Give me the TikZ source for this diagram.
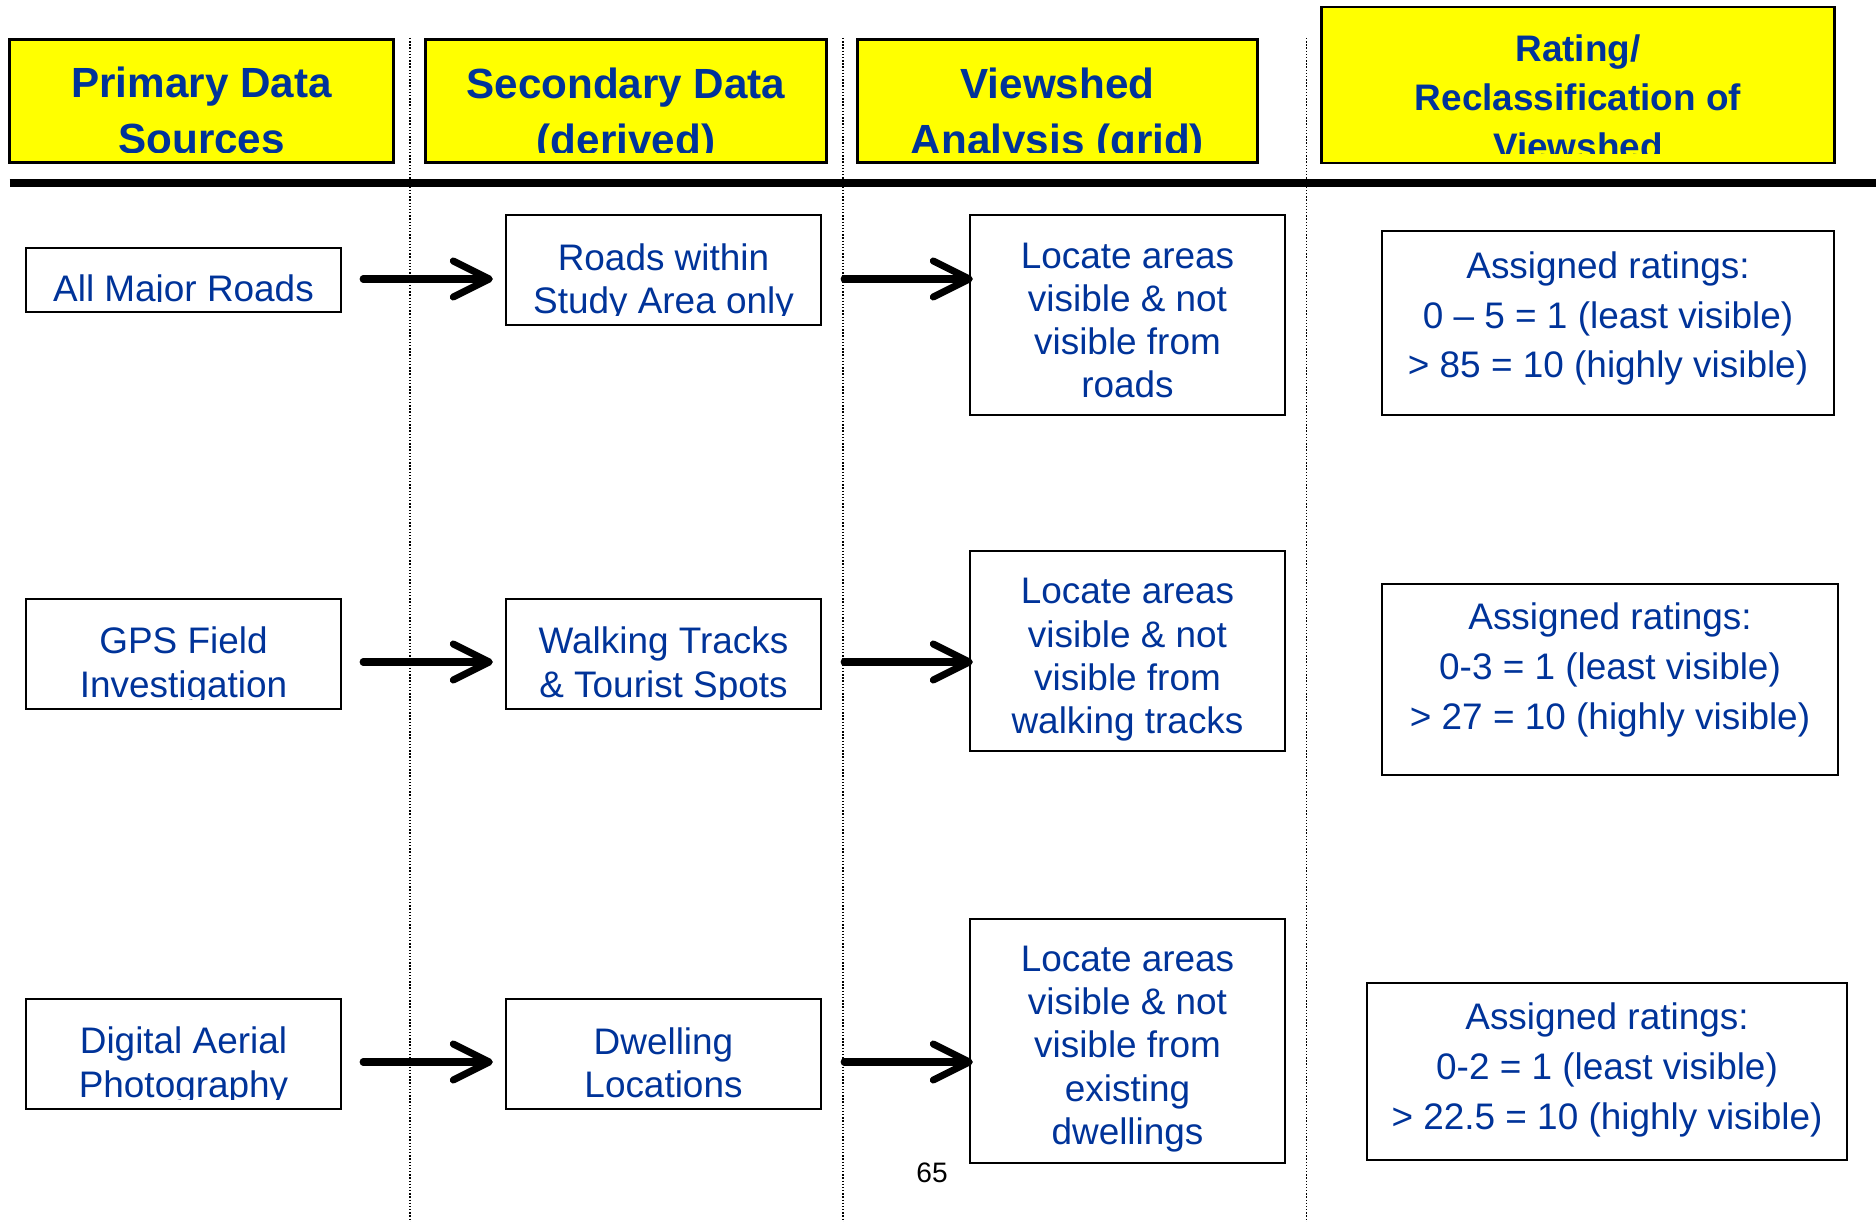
\documentclass[tikz,border=0pt]{standalone}
\usepackage{fontspec}
\setmainfont{Liberation Sans}
\usepackage{tikz}
\usetikzlibrary{arrows.meta}
\definecolor{slideblue}{HTML}{003399}
\definecolor{slideyellow}{HTML}{FFFF00}
\tikzset{
  headbox/.style={
    draw=black,
    line width=0.8pt,
    fill=slideyellow,
    minimum height=1.23cm,
    inner sep=0pt
  },
  headtext/.style={
    text=slideblue,
    align=center,
    inner sep=0pt,
    font=\fontsize{12}{15.9}\selectfont\bfseries
  },
  databox/.style={
    draw=black,
    line width=0.6pt,
    minimum width=3.15cm,
    inner sep=0pt
  },
  datatext/.style={
    text=slideblue,
    align=center,
    inner sep=0pt,
    font=\fontsize{10.5}{12.3}\selectfont
  },
  ratetext/.style={
    datatext,
    font=\fontsize{10.5}{14.2}\selectfont
  },
  flowarrow/.style={
    -{Straight Barb[length=3.6mm,width=3.6mm,round]},
    line width=2pt,
    line cap=round
  },
  divider/.style={
    line width=0.4pt,
    dash pattern=on 0.4pt off 0.5pt
  }
}

\begin{document}
\begin{tikzpicture}[x=0.01cm, y=-0.01cm]
\useasboundingbox (0,0) rectangle (1876,1222);

% column dividers
\draw[divider] (410,38) -- (410,1222);
\draw[divider] (843,38) -- (843,1222);
\draw[divider] (1306.6,38) -- (1306.6,1222);

% headers (text is cut off at the bottom, as on the slide)
\node[headbox, minimum width=3.84cm] (prim) at (201.6,101) {};
\node[headbox, minimum width=4.0cm] (seco) at (626,101) {};
\node[headbox, minimum width=3.99cm] (view) at (1057.5,101) {};
\node[headbox, minimum width=5.12cm, minimum height=1.56cm] (rate) at (1578,85) {};
\begin{scope}
  \clip ([yshift=0.11cm]prim.south west) rectangle (prim.north east);
  \node[headtext] (primtext) at (201.6,110) {Primary Data\\Sources};
\end{scope}
\begin{scope}
  \clip ([yshift=0.11cm]seco.south west) rectangle (seco.north east);
  \node[headtext] (secotext) at (626,115.5) {Secondary Data\\(derived)};
\end{scope}
\begin{scope}
  \clip ([yshift=0.11cm]view.south west) rectangle (view.north east);
  \node[headtext] (viewtext) at (1057.5,115.5) {Viewshed\\Analysis (grid)};
\end{scope}
\begin{scope}
  \clip ([yshift=0.11cm]rate.south west) rectangle (rate.north east);
  \node[headtext, font=\fontsize{10.5}{13.9}\selectfont\bfseries] (ratetext) at (1578,97) {Rating/\\Reclassification of\\Viewshed};
\end{scope}

\draw[line width=2.3pt] (9.6,183) -- (1876,183);

% primary sources
\node[databox, minimum height=0.64cm] (allroads) at (183.5,280) {};
\node[databox, minimum height=1.1cm] (gps) at (183.5,654) {};
\node[databox, minimum height=1.1cm] (aerial) at (183.5,1054) {};
\begin{scope}
  \clip ([yshift=0.12cm]allroads.south west) rectangle (allroads.north east);
  \node[datatext] (allroadstext) at (183.5,292) {All Major Roads};
\end{scope}
\begin{scope}
  \clip ([yshift=0.11cm]gps.south west) rectangle (gps.north east);
  \node[datatext] (gpstext) at (183.5,666) {GPS Field\\Investigation};
\end{scope}
\begin{scope}
  \clip ([yshift=0.11cm]aerial.south west) rectangle (aerial.north east);
  \node[datatext] (aerialtext) at (183.5,1066) {Digital Aerial\\Photography};
\end{scope}

% derived data
\node[databox, minimum height=1.1cm] (roadsarea) at (663.5,270) {};
\node[databox, minimum height=1.1cm] (tracks) at (663.5,654) {};
\node[databox, minimum height=1.1cm] (dwelling) at (663.5,1054) {};
\begin{scope}
  \clip ([yshift=0.11cm]roadsarea.south west) rectangle (roadsarea.north east);
  \node[datatext] (roadsareatext) at (663.5,282.5) {Roads within\\Study Area only};
\end{scope}
\begin{scope}
  \clip ([yshift=0.11cm]tracks.south west) rectangle (tracks.north east);
  \node[datatext] (trackstext) at (663.5,666) {Walking Tracks\\\& Tourist Spots};
\end{scope}
\begin{scope}
  \clip ([yshift=0.11cm]dwelling.south west) rectangle (dwelling.north east);
  \node[datatext] (dwellingtext) at (663.5,1063) {Dwelling\\Locations};
\end{scope}

% viewshed analysis
\node[databox, minimum height=2cm] (locroads) at (1127.5,315) {};
\node[databox, minimum height=2cm] (loctracks) at (1127.5,651) {};
\node[databox, minimum height=2.44cm] (locdwell) at (1127.5,1041) {};
\node[datatext] (locroadstext) at (1127.5,320.5) {Locate areas\\visible \& not\\visible from\\roads};
\node[datatext] (loctrackstext) at (1127.5,660) {Locate areas\\visible \& not\\visible from\\walking tracks};
\node[datatext] (locdwelltext) at (1127.5,1049) {Locate areas\\visible \& not\\visible from\\existing\\dwellings};

% ratings
\node[databox, minimum width=4.52cm, minimum height=1.84cm] (rateroads) at (1608,323) {};
\node[databox, minimum width=4.56cm, minimum height=1.91cm] (ratetracks) at (1610,679.5) {};
\node[databox, minimum width=4.8cm, minimum height=1.77cm] (ratedwell) at (1607,1071.5) {};
\node[ratetext] (rateroadstext) at (1608,318.5) {Assigned ratings:\\0 -- 5 = 1 (least visible)\\\textgreater{} 85 = 10 (highly visible)};
\node[ratetext] (ratetrackstext) at (1610,670) {Assigned ratings:\\0-3 = 1 (least visible)\\\textgreater{} 27 = 10 (highly visible)};
\node[ratetext] (ratedwelltext) at (1607,1070) {Assigned ratings:\\0-2 = 1 (least visible)\\\textgreater{} 22.5 = 10 (highly visible)};

% arrows
\coordinate (row1) at (0,279);
\coordinate (row2) at (0,662);
\coordinate (row3) at (0,1062);
\draw[flowarrow, shorten <=0.21cm, shorten >=0.12cm] (allroads.east |- row1) -- (roadsarea.west |- row1);
\draw[flowarrow, shorten <=0.22cm, shorten >=-0.04cm] (roadsarea.east |- row1) -- (locroads.west |- row1);
\draw[flowarrow, shorten <=0.21cm, shorten >=0.12cm] (gps.east |- row2) -- (tracks.west |- row2);
\draw[flowarrow, shorten <=0.22cm, shorten >=-0.04cm] (tracks.east |- row2) -- (loctracks.west |- row2);
\draw[flowarrow, shorten <=0.21cm, shorten >=0.12cm] (aerial.east |- row3) -- (dwelling.west |- row3);
\draw[flowarrow, shorten <=0.22cm, shorten >=-0.04cm] (dwelling.east |- row3) -- (locdwell.west |- row3);

\node[font=\fontsize{8}{9.6}\selectfont] (pagenum) at (932,1173) {65};
\end{tikzpicture}
\end{document}
